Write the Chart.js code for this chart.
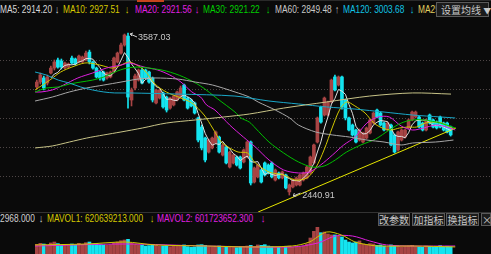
<!DOCTYPE html>
<html>
<head>
<meta charset="utf-8">
<script src="https://cdn.jsdelivr.net/npm/chart.js@4.4.1/dist/chart.umd.min.js"></script>
<style>
body{margin:0;background:#0a0a0a;width:491px;height:254px;overflow:hidden;position:relative;font-family:"Liberation Sans",Arial,sans-serif}
#main{position:absolute;left:0;top:19px}
#vol{position:absolute;left:0;top:226px}
.t{position:absolute;font-size:11px;line-height:12px;white-space:nowrap;transform:scaleX(0.76);transform-origin:0 0}
.btn{position:absolute;box-sizing:border-box;border:1px solid #5a5a5a;background:#1b1b1b;color:#c8c8c8;font-family:"Noto Sans CJK SC",sans-serif;font-size:10px;text-align:center;white-space:nowrap}
.sep{position:absolute;left:0;width:491px;height:1px;background:#333}
</style>
</head>
<body>
<div class="sep" style="top:0;background:#2a2a2a"></div>
<div style="position:absolute;left:137px;top:0;width:27px;height:2px;background:#c8451e"></div>

<span class="t" style="left:0;top:3px;color:#d8d8d8">MA5: 2914.20</span>
<span class="t" style="left:55px;top:3px;color:#d8d8d8">↓</span>
<span class="t" style="left:63px;top:3px;color:#d4c800">MA10: 2927.51</span>
<span class="t" style="left:125px;top:3px;color:#d4c800">↓</span>
<span class="t" style="left:135px;top:3px;color:#e020e0">MA20: 2921.56</span>
<span class="t" style="left:195px;top:3px;color:#e020e0">↓</span>
<span class="t" style="left:203px;top:3px;color:#00d000">MA30: 2921.22</span>
<span class="t" style="left:266px;top:3px;color:#00d000">↓</span>
<span class="t" style="left:275px;top:3px;color:#c8c8c8">MA60: 2849.48</span>
<span class="t" style="left:335px;top:3px;color:#c8c8c8">↑</span>
<span class="t" style="left:343px;top:3px;color:#10c4e4">MA120: 3003.68</span>
<span class="t" style="left:410px;top:3px;color:#10c4e4">↓</span>
<span class="t" style="left:418px;top:3px;color:#e0d060">MA250</span>
<div class="btn" style="left:436px;top:2px;width:53px;height:15px;line-height:13px;text-align:left;padding-left:4px">设置均线 <span style="font-size:8px">▼</span></div>

<canvas id="main" width="491" height="193"></canvas>
<div class="sep" style="top:212px"></div>

<span class="t" style="left:0;top:212px;color:#d0d0d0">2968.000</span>
<span class="t" style="left:39px;top:212px;color:#d0d0d0">↓</span>
<span class="t" style="left:47px;top:212px;color:#d4c800">MAVOL1: 620639213.000</span>
<span class="t" style="left:150px;top:212px;color:#d4c800">↓</span>
<span class="t" style="left:157px;top:212px;color:#e020e0">MAVOL2: 601723652.300</span>
<span class="t" style="left:261px;top:212px;color:#e020e0">↓</span>
<div class="btn" style="left:378px;top:213px;width:32px;height:13px;line-height:11px">改参数</div>
<div class="btn" style="left:412px;top:213px;width:33px;height:13px;line-height:11px">加指标</div>
<div class="btn" style="left:446px;top:213px;width:33px;height:13px;line-height:11px">换指标</div>
<div class="btn" style="left:481px;top:213px;width:10px;height:13px;line-height:11px">×</div>

<canvas id="vol" width="491" height="28"></canvas>

<script>
// daily candles, prices
const opens = [3205,3240,3269,3233,3304,3339,3396,3389,3339,3346,
  3410,3403,3382,3382,3396,3452,3382,3339,3311,3311,
  3269,3276,3311,3382,3445,3502,3565,3113,3198,3254,
  3325,3325,3311,3269,3092,3127,3163,3134,3056,3078,
  3113,3134,3219,3127,3113,3092,2986,2922,2844,2745,
  2774,2809,2851,2724,2781,2639,2668,2710,2710,2675,
  2710,2816,2533,2569,2618,2668,2653,2668,2547,2597,
  2562,2583,2463,2498,2512,2512,2547,2562,2597,2668,
  2816,3064,3007,3007,3099,3276,3219,3276,3113,2986,
  2936,2901,2830,2816,2844,2880,2950,3042,3021,2950,
  2901,2936,2866,2760,2830,2851,2915,2972,2993,2993,
  2950,2901,3007,2972,2957,2993,2950,2950,2922];
const highs = [3254,3304,3283,3290,3353,3396,3410,3403,3382,3375,
  3424,3410,3431,3424,3459,3466,3389,3346,3318,3318,
  3311,3318,3417,3452,3516,3580,3587.03,3198,3297,3332,
  3339,3332,3318,3276,3191,3191,3170,3141,3134,3148,
  3177,3212,3226,3134,3120,3099,2993,2936,2851,2837,
  2851,2894,2858,2802,2788,2752,2731,2717,2717,2767,
  2823,2823,2639,2661,2625,2675,2661,2675,2625,2604,
  2611,2590,2519,2555,2569,2590,2604,2646,2717,2802,
  2993,3071,3134,3106,3261,3290,3283,3283,3120,2993,
  2943,2908,2908,2887,2922,2979,3028,3049,3028,2957,
  2957,2943,2873,2894,2908,2908,2979,3035,3035,3000,
  2957,2979,3014,2979,2965,3000,2957,2957,2929];
const lows = [3191,3226,3184,3219,3297,3325,3339,3332,3332,3339,
  3368,3360,3375,3375,3389,3368,3332,3269,3254,3247,
  3261,3269,3304,3375,3438,3494,3056,3071,3184,3247,
  3226,3261,3233,3099,3085,3120,3056,3028,3049,3071,
  3106,3127,3106,3049,3064,3014,2816,2760,2675,2738,
  2767,2802,2738,2717,2661,2632,2661,2646,2625,2668,
  2703,2512,2526,2562,2526,2576,2590,2562,2540,2555,
  2555,2484,2440.91,2491,2505,2505,2540,2555,2590,2661,
  2809,2950,3000,3000,3092,3177,3212,3049,2972,2894,
  2858,2809,2823,2809,2837,2873,2943,2986,2929,2894,
  2894,2788,2738,2752,2823,2844,2908,2965,2986,2915,
  2894,2894,2943,2915,2908,2915,2894,2880,2858];
const closes = [3240,3290,3198,3276,3339,3382,3346,3346,3375,3368,
  3375,3368,3424,3417,3445,3382,3339,3276,3269,3254,
  3304,3311,3410,3445,3502,3573,3134,3184,3283,3325,
  3233,3269,3240,3113,3184,3184,3064,3042,3127,3141,
  3170,3198,3113,3056,3071,3021,2830,2774,2689,2830,
  2844,2887,2745,2795,2668,2745,2724,2653,2632,2760,
  2816,2526,2632,2653,2533,2583,2597,2569,2618,2562,
  2604,2491,2512,2547,2562,2583,2597,2639,2710,2795,
  2986,2957,3127,3099,3254,3184,3276,3064,2986,2901,
  2866,2816,2901,2880,2915,2972,3021,2993,2936,2901,
  2950,2795,2745,2887,2901,2901,2972,3028,3028,2922,
  2901,2972,2950,2922,2915,2922,2901,2887,2866];
// volume, in units of 100 million shares
const volumes = [7.2,8.0,7.5,6.8,8.3,9.0,7.8,7.0,6.5,6.8,
  7.5,7.0,8.0,7.3,8.5,9.0,7.5,8.0,7.0,6.8,
  6.5,7.0,8.3,9.0,10.0,10.5,11.0,8.0,7.5,7.0,
  6.8,6.0,6.3,7.0,6.5,5.8,6.0,6.3,5.5,5.8,
  6.0,6.3,6.8,5.5,5.0,5.3,6.8,7.0,6.5,5.5,
  5.3,5.8,6.0,5.0,5.5,5.8,5.0,4.8,5.3,5.5,
  6.0,6.5,5.5,6.8,6.5,7.0,6.0,5.5,5.3,5.0,
  5.3,5.8,6.0,5.0,5.3,5.5,6.0,7.5,12.0,17.0,
  20.0,16.0,16.5,15.0,14.3,14.3,13.5,12.8,10.5,9.0,
  8.3,9.0,9.8,7.5,7.0,7.8,7.5,6.5,6.8,6.0,
  5.5,6.8,6.3,6.0,5.5,5.8,6.0,6.5,5.5,5.3,
  5.0,6.0,5.8,5.3,5.0,6.3,5.5,5.8,5.5];

// moving average lines: [day index, price]
const ma10 = [[-0.5,3184],[3.7,3254],[6.8,3311],[10,3346],[13.7,3375],[16.6,3368],[19.1,3353],[21.5,3339],[24,3360],[26.4,3382],[30.6,3325],[33.7,3226],[36.9,3170],[41.1,3127],[44.2,3092],[47.7,3007],[50.1,2915],[52.6,2816],[55,2774],[57.4,2745],[60.1,2738],[62.3,2668],[66.2,2604],[70.4,2583],[73.6,2547],[77,2562],[79.5,2632],[81.9,2760],[84.3,2922],[86.3,3042],[88.3,3099],[90.7,3071],[93.6,3021],[96.1,2950],[98.5,2915],[101,2901],[103.4,2915],[105.9,2922],[108.3,2922],[110.7,2950],[113.2,2957],[115.6,2950],[118.8,2908]];
const ma20 = [[-0.5,3170],[1.2,3170],[4.4,3184],[7.6,3219],[11.7,3269],[15.9,3304],[19.8,3339],[24,3360],[26.4,3375],[30.6,3346],[34.5,3325],[37.9,3290],[41.1,3240],[44.2,3170],[46.7,3134],[48.4,3078],[50.8,3042],[55,2936],[58.9,2851],[62.3,2781],[66.2,2689],[70.4,2618],[74.6,2597],[77.7,2604],[80.9,2653],[84.3,2724],[87.5,2795],[90.7,2851],[94.1,2950],[97.3,2993],[100.5,2993],[103.9,2929],[107.1,2901],[110.3,2915],[113.7,2936],[116.9,2922],[119.3,2901]];
const ma30 = [[-0.5,3170],[2.7,3198],[6.1,3205],[9.3,3226],[12.5,3240],[15.9,3254],[19.1,3276],[22.2,3311],[25.7,3339],[28.8,3346],[32,3339],[36.9,3318],[41.8,3276],[46.7,3212],[51.6,3120],[56.5,3028],[58.2,2986],[60.6,2957],[62.3,2915],[66.2,2816],[70.4,2738],[74.6,2675],[78.5,2639],[81.9,2646],[85.1,2689],[88.3,2745],[92.4,2795],[96.6,2837],[100.5,2901],[103.9,2950],[107.1,2972],[110.3,2972],[115.1,2950],[119.3,2915]];
const ma60 = [[-0.5,3106],[4.4,3134],[9.3,3170],[14.2,3198],[19.1,3219],[24,3240],[28.8,3261],[33.7,3269],[40.3,3261],[45.2,3240],[50.1,3219],[56.5,3170],[60.6,3134],[63.1,3099],[68,3042],[72.1,2986],[74.6,2936],[79.5,2887],[84.3,2866],[89.2,2851],[94.1,2830],[99,2816],[103.9,2795],[107.1,2809],[113.7,2816],[118.8,2830]];
const ma120 = [[-0.5,3311],[2.7,3290],[6.1,3254],[9.3,3233],[12.5,3205],[15.9,3184],[19.1,3170],[22.2,3163],[26.4,3163],[40.3,3155],[56.5,3141],[66.2,3106],[74.6,3085],[82.6,3064],[90.7,3049],[99,3028],[107.1,3007],[115.1,2993],[119.3,2986]];
const ma250 = [[-0.5,2774],[4.4,2788],[9.3,2816],[14.2,2844],[19.1,2866],[24,2887],[30.1,2915],[36.9,2950],[45.2,2972],[53.3,2993],[60.6,3014],[70.4,3056],[82.6,3099],[94.9,3141],[107.1,3163],[118.1,3155]];
const trendline = [[63.1,2321],[119.5,2915]];
const mavol1 = [[-0.5,6.8],[14.2,7.5],[25.2,9],[33.7,6.8],[48.4,6],[60.6,5.3],[72.8,6],[77.7,9],[82.6,16.5],[86.8,14.3],[90.7,9],[93.1,7.5],[97.3,6],[107.1,6],[119.3,5.3]];
const mavol2 = [[-0.5,6],[25.2,7.5],[48.4,6],[72.8,5.3],[80.2,8.3],[85.1,13.5],[90,13.5],[94.9,9.8],[99.7,6.8],[107.1,6],[119.3,6]];
const gridPrices = [3396, 3191, 2986, 2781, 2576];
const highIdx = 26, lowIdx = 72;

const UP = '#a84444', DN = '#14e4f0';
const days = closes.map((c, i) => i);
const colors = days.map(i => closes[i] >= opens[i] ? UP : DN);

const ma5 = days.map(i => {
  if (i < 4) return {x: i, y: null};
  let s = 0;
  for (let k = i - 4; k <= i; k++) s += closes[k];
  return {x: i, y: s / 5};
});

function line(pts, color, tension) {
  return {
    type: 'line',
    data: pts.map(p => ({x: p[0], y: p[1]})),
    borderColor: color, borderWidth: 1, pointRadius: 0,
    tension: tension, order: 0
  };
}

const gridPlugin = {
  id: 'grid',
  beforeDatasetsDraw(chart) {
    const c = chart.ctx, y = chart.scales.y;
    c.save();
    c.strokeStyle = '#4e4646';
    c.setLineDash([1, 2]);
    c.lineWidth = 1;
    gridPrices.forEach(p => {
      const py = Math.round(y.getPixelForValue(p)) + 0.5;
      c.beginPath(); c.moveTo(0, py); c.lineTo(chart.width, py); c.stroke();
    });
    c.restore();
  }
};

const markPlugin = {
  id: 'marks',
  afterDatasetsDraw(chart) {
    const c = chart.ctx, x = chart.scales.x, y = chart.scales.y;
    c.save();
    c.strokeStyle = '#d0d0d0';
    c.fillStyle = '#c8c8c8';
    c.lineWidth = 1;
    c.font = '9px "Liberation Sans", Arial, sans-serif';
    // highest point
    let px = x.getPixelForValue(highIdx), py = y.getPixelForValue(highs[highIdx]);
    c.beginPath(); c.moveTo(px + 2, py + 1); c.lineTo(px + 9, py + 4); c.stroke();
    c.beginPath(); c.moveTo(px + 2, py + 1); c.lineTo(px + 5, py); c.moveTo(px + 2, py + 1); c.lineTo(px + 4, py + 3); c.stroke();
    c.fillText(highs[highIdx].toFixed(2), px + 10, py + 7);
    // lowest point
    px = x.getPixelForValue(lowIdx); py = y.getPixelForValue(lows[lowIdx]);
    c.beginPath(); c.moveTo(px + 4, py + 1); c.lineTo(px + 11, py - 2); c.stroke();
    c.beginPath(); c.moveTo(px + 4, py + 1); c.lineTo(px + 7, py + 1); c.moveTo(px + 4, py + 1); c.lineTo(px + 5, py - 2); c.stroke();
    c.fillText(lows[lowIdx].toFixed(2), px + 13, py + 3);
    c.restore();
  }
};

const baseOpts = (ymin, ymax) => ({
  responsive: false,
  animation: false,
  events: [],
  layout: {padding: 0},
  plugins: {legend: {display: false}, tooltip: {enabled: false}},
  scales: {
    x: {type: 'linear', min: -0.5, max: 119.5, display: false},
    y: {min: ymin, max: ymax, display: false}
  }
});

new Chart(document.getElementById('main'), {
  type: 'bar',
  data: {
    datasets: [
      {data: days.map(i => ({x: i, y: [lows[i], highs[i]]})), backgroundColor: colors, barThickness: 1, grouped: false, order: 2},
      {data: days.map(i => ({x: i, y: [opens[i], closes[i]]})), backgroundColor: colors, barThickness: 3, grouped: false, order: 1},
      line(ma250, '#c8c488', 0.3),
      line(ma120, '#1aa8c8', 0.3),
      line(ma60, '#a8a8a8', 0.3),
      line(ma30, '#00c000', 0.3),
      line(ma20, '#e020e0', 0.3),
      line(ma10, '#d2c800', 0.3),
      {type: 'line', data: ma5, borderColor: '#e0e0e0', borderWidth: 1, pointRadius: 0, order: 0},
      line(trendline, '#e6e600', 0)
    ]
  },
  options: baseOpts(2321, 3686),
  plugins: [gridPlugin, markPlugin]
});

new Chart(document.getElementById('vol'), {
  type: 'bar',
  data: {
    datasets: [
      {data: days.map(i => ({x: i, y: volumes[i]})), backgroundColor: colors, barThickness: 3, grouped: false, order: 1},
      line(mavol1, '#d2c800', 0.3),
      line(mavol2, '#e020e0', 0.3)
    ]
  },
  options: baseOpts(0, 21)
});
</script>
</body>
</html>
